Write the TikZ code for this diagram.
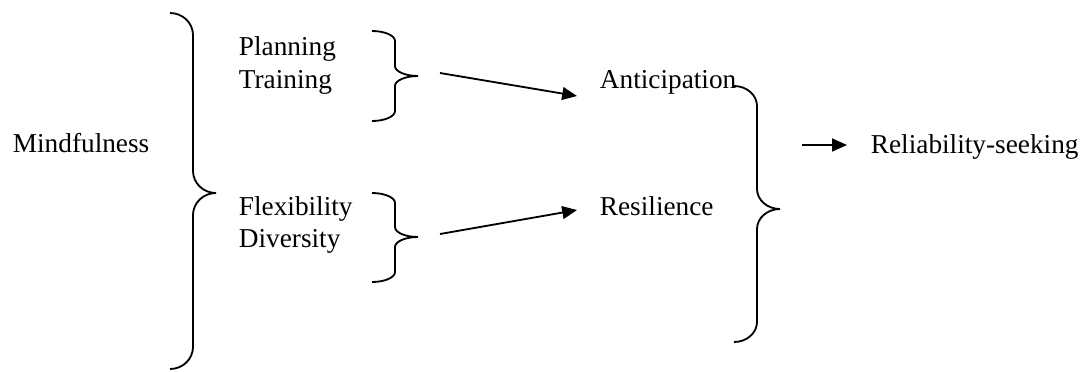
\documentclass[tikz,border=0pt]{standalone}
\usepackage{fontspec}
\setmainfont{Liberation Serif}
\usetikzlibrary{arrows.meta}
% curly brace: x of ends, top y, tip y, bottom y, curl height
\newcommand{\curly}[5]{%
  \draw (#1,#2) .. controls ({#1+12.7},#2) and ({#1+23},{#2+0.45*#5}) .. ({#1+23},{#2+#5})
    -- ({#1+23},{#3-#5}) .. controls ({#1+23},{#3-0.45*#5}) and ({#1+33.3},#3) .. ({#1+46},#3)
    .. controls ({#1+33.3},#3) and ({#1+23},{#3+0.45*#5}) .. ({#1+23},{#3+#5})
    -- ({#1+23},{#4-#5}) .. controls ({#1+23},{#4-0.45*#5}) and ({#1+12.7},#4) .. (#1,#4);}

\begin{document}
\begin{tikzpicture}[x=0.025cm,y=-0.025cm,line width=1.3pt,
  >={Triangle[length=3.7mm,width=3.2mm]},
  lbl/.style={anchor=base west,inner sep=0pt,font=\fontsize{19.4}{23}\selectfont}]
\useasboundingbox (0,0) rectangle (1083,371);
% labels
\node[lbl] (mind) at (12,152) {Mindfulness};
\node[lbl] (plan) at (238,55) {Planning};
\node[lbl] (train) at (238,88) {Training};
\node[lbl] (flex) at (238,215) {Flexibility};
\node[lbl] (div) at (238,247) {Diversity};
\node[lbl] (antic) at (599,88) {Anticipation};
\node[lbl] (resil) at (599,215) {Resilience};
\node[lbl] (rel) at (870,153) {Reliability-seeking};
% braces
\curly{170}{13}{193}{369}{22}
\curly{372}{31}{76}{121}{10}
\curly{372}{193}{237}{282}{10}
\curly{734}{86}{209}{342}{20}
% arrows
\coordinate (ptout) at (440,73);
\coordinate (fdout) at (440,234);
\coordinate (arout) at (802,145);
\draw[->] (ptout) -- ([shift={(-22,8)}]antic.base west);
\draw[->] (fdout) -- ([shift={(-22,-5)}]resil.base west);
\draw[->] (arout) -- ([shift={(-23,-8)}]rel.base west);
\end{tikzpicture}
\end{document}
